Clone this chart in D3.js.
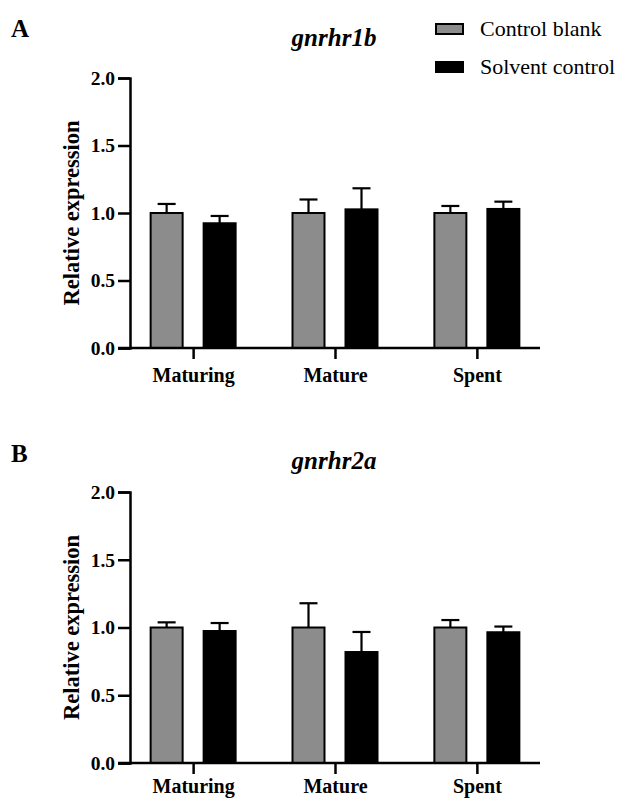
<!DOCTYPE html>
<html>
<head>
<meta charset="utf-8">
<script src="https://cdn.jsdelivr.net/npm/d3@7"></script>
<style>
  body { margin: 0; background: #fff; }
  svg { font-family: "Liberation Serif", "Times New Roman", serif; }
</style>
</head>
<body>
<div id="wrapper"></div>
<script>
// DATA
const STAGES = [`Maturing`, `Mature`, `Spent`];
const GROUPS = [`Control blank`, `Solvent control`];
const Y_TICKS = [0, 0.5, 1.0, 1.5, 2.0];

const r1bBlank = [1.0, 1.0, 1.0];
const r1bBlankErr = [0.067, 0.10, 0.052];
const r1bSolvent = [0.924, 1.027, 1.03];
const r1bSolventErr = [0.054, 0.156, 0.054];

const r2aBlank = [1.0, 1.0, 1.0];
const r2aBlankErr = [0.038, 0.179, 0.055];
const r2aSolvent = [0.974, 0.819, 0.965];
const r2aSolventErr = [0.059, 0.148, 0.042];

// CONSTANTS
const WIDTH = 619;
const HEIGHT = 799;
const GRAY = `#8c8c8c`;
const barWidth = 32;
const barOffset = 26.5;
const capWidth = 18;

const svg = d3.select(`#wrapper`)
  .append(`svg`)
  .attr(`width`, WIDTH)
  .attr(`height`, HEIGHT);

// SCALES
const xScale = d3.scalePoint()
  .domain(STAGES)
  .range([130, 540])
  .padding(0.445);

const colors = d3.scaleOrdinal()
  .domain(GROUPS)
  .range([GRAY, `#000`]);

const offsets = d3.scaleOrdinal()
  .domain(GROUPS)
  .range([-barOffset, barOffset]);

const drawPanel = ({ letter, letterY, title, titleY, top, bottom, labelPad, blank, blankErr, solvent, solventErr }) => {
  const yScale = d3.scaleLinear()
    .domain([0, 2])
    .range([bottom, top]);

  const g = svg.append(`g`);

  const rows = [
    ...STAGES.map((s, i) => ({ stage: s, group: GROUPS[0], value: blank[i], err: blankErr[i] })),
    ...STAGES.map((s, i) => ({ stage: s, group: GROUPS[1], value: solvent[i], err: solventErr[i] }))
  ];

  const cx = d => xScale(d.stage) + offsets(d.group);

  // error bars (upper only)
  const err = g.selectAll(`.err`)
    .data(rows)
    .enter()
    .append(`g`)
    .attr(`class`, `err`)
    .attr(`stroke`, `#000`)
    .attr(`stroke-width`, 2.2);

  err.append(`line`)
    .attr(`x1`, cx)
    .attr(`x2`, cx)
    .attr(`y1`, d => yScale(d.value))
    .attr(`y2`, d => yScale(d.value + d.err));

  err.append(`line`)
    .attr(`x1`, d => cx(d) - capWidth / 2)
    .attr(`x2`, d => cx(d) + capWidth / 2)
    .attr(`y1`, d => yScale(d.value + d.err))
    .attr(`y2`, d => yScale(d.value + d.err));

  // bars
  g.selectAll(`.bar`)
    .data(rows)
    .enter()
    .append(`rect`)
    .attr(`class`, `bar`)
    .attr(`x`, d => cx(d) - barWidth / 2)
    .attr(`y`, d => yScale(d.value))
    .attr(`width`, barWidth)
    .attr(`height`, d => yScale(0) - yScale(d.value))
    .attr(`fill`, d => colors(d.group))
    .attr(`stroke`, `#000`)
    .attr(`stroke-width`, 2);

  // AXIS
  const yAxis = d3.axisLeft(yScale)
    .tickValues(Y_TICKS)
    .tickFormat(d3.format(`.1f`))
    .tickSizeOuter(0)
    .tickSize(12)
    .tickPadding(3);

  const yG = g.append(`g`)
    .attr(`transform`, `translate(130, 0)`)
    .call(yAxis);

  yG.select(`.domain`)
    .attr(`stroke-width`, 2.5);

  yG.selectAll(`.tick line`)
    .attr(`stroke-width`, 2.5);

  yG.selectAll(`.tick text`)
    .attr(`font-family`, `"Liberation Serif", serif`)
    .attr(`font-weight`, `bold`)
    .attr(`font-size`, 19.5)
    .attr(`fill`, `#000`);

  const xAxis = d3.axisBottom(xScale)
    .tickSizeOuter(0)
    .tickSize(11)
    .tickPadding(labelPad);

  const xG = g.append(`g`)
    .attr(`transform`, `translate(0, ${bottom})`)
    .call(xAxis);

  xG.select(`.domain`)
    .attr(`stroke-width`, 2.5)
    .attr(`d`, `M118,0H540`);

  xG.selectAll(`.tick line`)
    .attr(`stroke-width`, 2.5);

  xG.selectAll(`.tick text`)
    .attr(`font-family`, `"Liberation Serif", serif`)
    .attr(`font-weight`, `bold`)
    .attr(`font-size`, 20)
    .attr(`fill`, `#000`);

  // labels
  g.append(`text`)
    .attr(`transform`, `translate(79, ${(top + bottom) / 2}) rotate(-90)`)
    .attr(`text-anchor`, `middle`)
    .attr(`font-weight`, `bold`)
    .attr(`font-size`, 22.5)
    .text(`Relative expression`);

  g.append(`text`)
    .attr(`x`, 334)
    .attr(`y`, titleY)
    .attr(`text-anchor`, `middle`)
    .attr(`font-weight`, `bold`)
    .attr(`font-style`, `italic`)
    .attr(`font-size`, 25)
    .text(title);

  g.append(`text`)
    .attr(`x`, 11)
    .attr(`y`, letterY)
    .attr(`font-weight`, `bold`)
    .attr(`font-size`, 25)
    .text(letter);
};

drawPanel({
  letter: `A`, letterY: 37, title: `gnrhr1b`, titleY: 46, top: 78, bottom: 348, labelPad: 9,
  blank: r1bBlank, blankErr: r1bBlankErr, solvent: r1bSolvent, solventErr: r1bSolventErr
});

drawPanel({
  letter: `B`, letterY: 462, title: `gnrhr2a`, titleY: 469, top: 492, bottom: 763, labelPad: 5,
  blank: r2aBlank, blankErr: r2aBlankErr, solvent: r2aSolvent, solventErr: r2aSolventErr
});

// LEGEND
const legend = svg.selectAll(`.legend`)
  .data(GROUPS)
  .enter()
  .append(`g`)
  .attr(`class`, `legend`)
  .attr(`transform`, (d, i) => `translate(436, ${29 + i * 38})`);

legend.append(`rect`)
  .attr(`x`, 0)
  .attr(`y`, -5)
  .attr(`width`, 27)
  .attr(`height`, 10)
  .attr(`fill`, d => colors(d))
  .attr(`stroke`, `#000`)
  .attr(`stroke-width`, 2);

legend.append(`text`)
  .attr(`x`, 44)
  .attr(`y`, 7)
  .attr(`font-size`, 22)
  .text(d => d);
</script>
</body>
</html>
